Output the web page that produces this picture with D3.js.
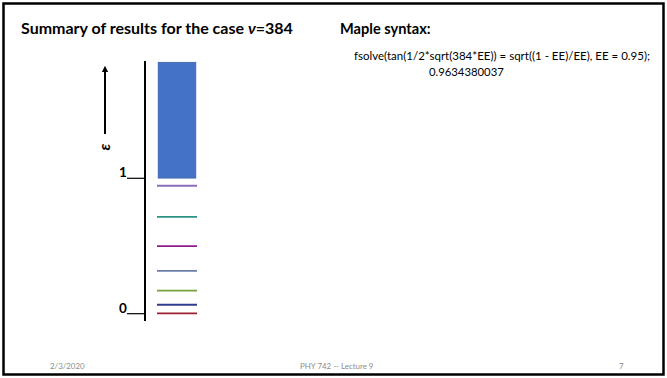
<!DOCTYPE html>
<html>
<head>
<meta charset="utf-8">
<script src="https://cdn.jsdelivr.net/npm/d3@7"></script>
<style>
  html, body { margin: 0; padding: 0; background: #fff; }
  svg { display: block; font-family: Lato, "Open Sans", sans-serif; }
</style>
</head>
<body>
<svg id="slide" width="667" height="378"></svg>
<script>
// Bound-state energies (in units of the well depth) for v = 384, lowest first
const levelValues = [0.0212, 0.0844, 0.1893, 0.3345, 0.5177, 0.7341, 0.9634];
const levelColors = ["#9e1f33", "#2f3d8e", "#76a23a", "#6b80a9", "#8e1c8a", "#2b9384", "#8b6cb8"];
// Continuum of unbound states above the well
const continuumRange = [1.02, 1.875];
const tickValues = [0, 1];
const tickLabels = ["0", "1"];
const codeLines = [
  "fsolve(tan(1/2*sqrt(384*EE)) = sqrt((1 - EE)/EE), EE = 0.95);",
  "0.9634380037"
];
const footer = { date: "2/3/2020", course: "PHY 742 -- Lecture 9", page: "7" };

const svg = d3.select("#slide");

// slide frame
svg.append("rect")
  .attr("x", 3.5).attr("y", 3.5)
  .attr("width", 660).attr("height", 371)
  .attr("fill", "none").attr("stroke", "#000").attr("stroke-width", 2.5);

// headings
const title = svg.append("text")
  .attr("x", 21).attr("y", 34)
  .attr("font-size", 16).attr("font-weight", "bold");
title.append("tspan").text("Summary of results for the case  ");
title.append("tspan").attr("font-style", "italic").text("ν");
title.append("tspan").text("=384");

svg.append("text")
  .attr("x", 340).attr("y", 34)
  .attr("font-size", 14.6).attr("font-weight", "bold")
  .text("Maple syntax:");

svg.append("text")
  .attr("x", 354).attr("y", 60)
  .attr("font-size", 11.5)
  .text(codeLines[0]);
svg.append("text")
  .attr("x", 429).attr("y", 76)
  .attr("font-size", 11.3)
  .text(codeLines[1]);

// energy scale
const y = d3.scaleLinear().domain([0, 1]).range([316.2, 180.8]);
const x = d3.scaleLinear().domain([0, 1]).range([157, 197]);

// vertical energy axis
const axisX = 145;
svg.append("line")
  .attr("x1", axisX).attr("x2", axisX)
  .attr("y1", 61).attr("y2", 321)
  .attr("stroke", "#000").attr("stroke-width", 2);

// tick marks with labels sitting on them
const ticks = svg.append("g").selectAll("g")
  .data(tickValues)
  .join("g")
  .attr("transform", d => `translate(0,${y(d) - 2.5})`);
ticks.append("line")
  .attr("x1", 127).attr("x2", axisX)
  .attr("y1", 0).attr("y2", 0)
  .attr("stroke", "#000").attr("stroke-width", 1.2);
ticks.append("text")
  .attr("x", 119).attr("y", -1)
  .attr("font-size", 13.5).attr("font-weight", "bold")
  .text((d, i) => tickLabels[i]);

// arrow showing increasing energy
svg.append("defs").append("marker")
  .attr("id", "head")
  .attr("viewBox", "0 0 10 10")
  .attr("refX", 5).attr("refY", 5)
  .attr("markerWidth", 3.2).attr("markerHeight", 3.2)
  .attr("orient", "auto")
  .append("path")
  .attr("d", "M0,0 L10,5 L0,10 Z")
  .attr("fill", "#000");
svg.append("line")
  .attr("x1", 105).attr("x2", 105)
  .attr("y1", 134).attr("y2", 69)
  .attr("stroke", "#000").attr("stroke-width", 2)
  .attr("marker-end", "url(#head)");
svg.append("text")
  .attr("transform", "translate(110,147) rotate(-90)")
  .attr("text-anchor", "middle")
  .attr("font-size", 16).attr("font-weight", "bold").attr("font-style", "italic")
  .text("ε");

// continuum block
svg.append("rect")
  .attr("x", x(0.03))
  .attr("y", y(continuumRange[1]))
  .attr("width", x(0.97) - x(0.03))
  .attr("height", y(continuumRange[0]) - y(continuumRange[1]))
  .attr("fill", "#4472c4")
  .attr("stroke", "#3a64b0").attr("stroke-width", 0.8);

// bound-state levels
svg.append("g").selectAll("line")
  .data(levelValues)
  .join("line")
  .attr("x1", x(0)).attr("x2", x(1))
  .attr("y1", d => y(d)).attr("y2", d => y(d))
  .attr("stroke", (d, i) => levelColors[i])
  .attr("stroke-width", 1.8);

// footer
const foot = svg.append("g")
  .attr("font-size", 7.9).attr("fill", "#8c8c8c");
foot.append("text").attr("x", 50).attr("y", 368.5).text(footer.date);
foot.append("text").attr("x", 300).attr("y", 368.5).text(footer.course);
foot.append("text").attr("x", 619).attr("y", 368.5).text(footer.page);
</script>
</body>
</html>
